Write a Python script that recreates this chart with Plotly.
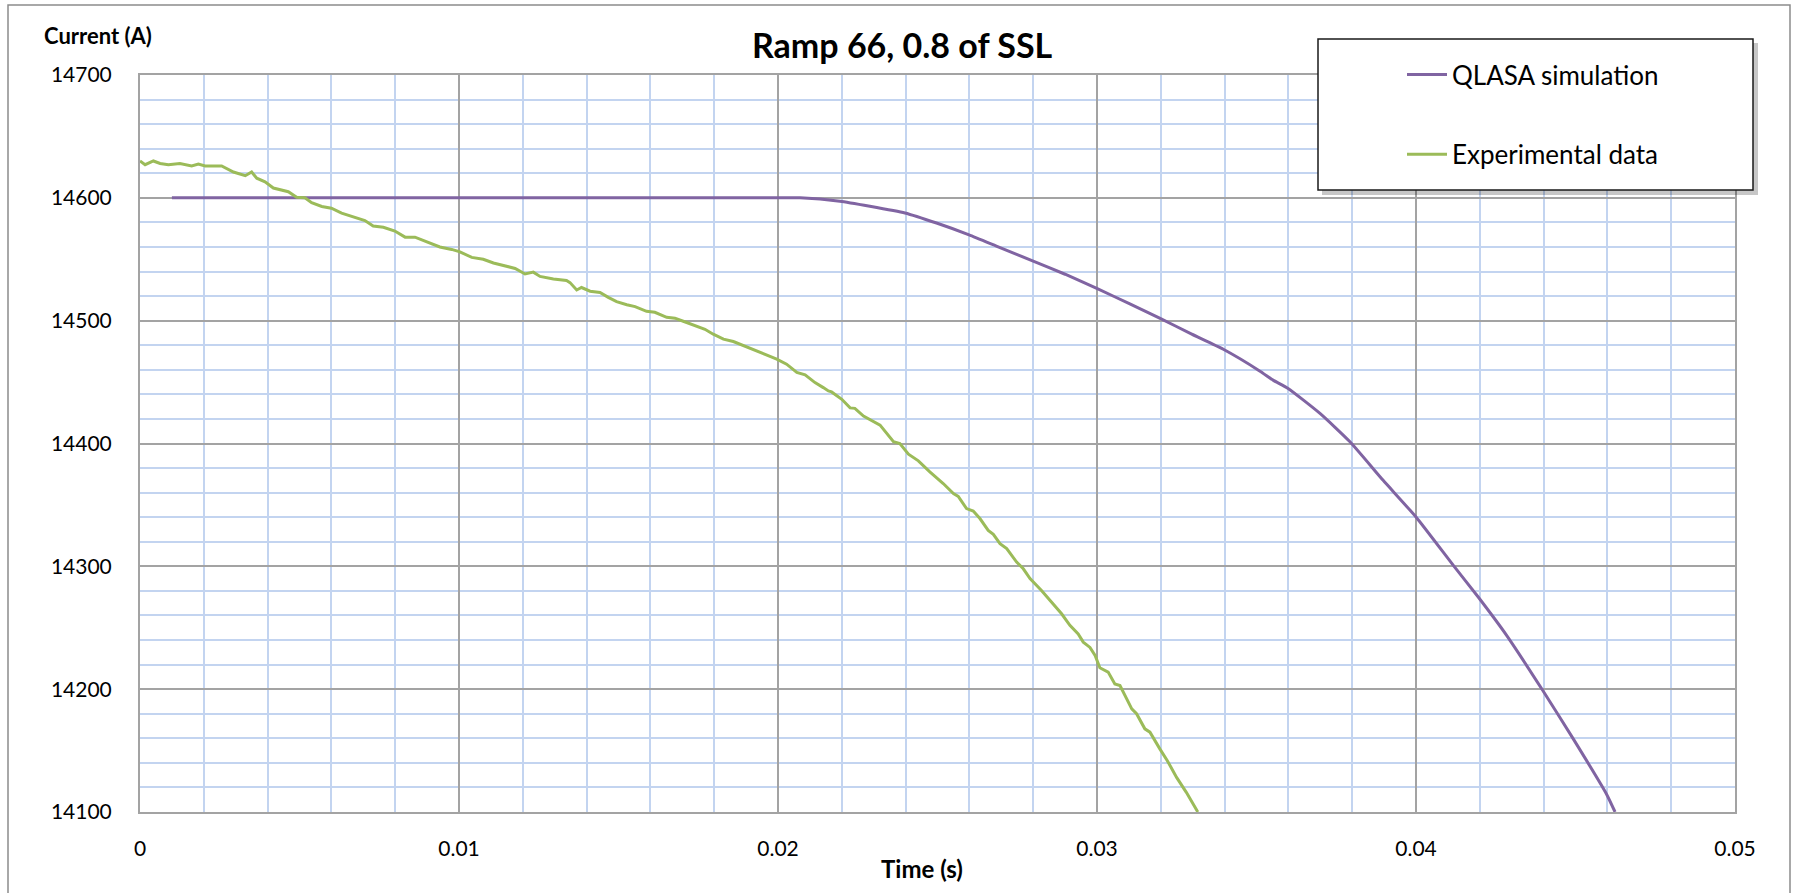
import plotly.graph_objects as go

# ---- data (time in s, current in A) ----
exp_t = [0.0, 0.00016, 0.00042, 0.00063, 0.00089, 0.00125, 0.00162, 0.00183, 0.00204, 0.00256,
         0.00293, 0.00330, 0.00350, 0.00366, 0.00392, 0.00418, 0.00465, 0.00491, 0.00517, 0.00538,
         0.00570, 0.00600, 0.00632, 0.00674, 0.00705, 0.00731, 0.00763, 0.00799, 0.00831, 0.00862,
         0.00904, 0.00940, 0.00977, 0.01003, 0.01040, 0.01076, 0.01108, 0.01140, 0.01176, 0.01207,
         0.01233, 0.01254, 0.01296, 0.01337, 0.01348, 0.01369, 0.01384, 0.01411, 0.01442, 0.01468,
         0.01494, 0.01526, 0.01552, 0.01588, 0.01614, 0.01651, 0.01677, 0.01703, 0.01735, 0.01771,
         0.01797, 0.01829, 0.01860, 0.01891, 0.01928, 0.01970, 0.01996, 0.02027, 0.02059, 0.02085,
         0.02116, 0.02142, 0.02158, 0.02168, 0.02200, 0.02226, 0.02241, 0.02268, 0.02299, 0.02320,
         0.02362, 0.02382, 0.02409, 0.02440, 0.02476, 0.02518, 0.02550, 0.02565, 0.02591, 0.02612,
         0.02633, 0.02659, 0.02675, 0.02696, 0.02717, 0.02748, 0.02769, 0.02790, 0.02826, 0.02858,
         0.02889, 0.02915, 0.02941, 0.02957, 0.02978, 0.02994, 0.03009, 0.03035, 0.03056, 0.03072,
         0.03088, 0.03109, 0.03124, 0.03150, 0.03166, 0.03187, 0.03197, 0.03220, 0.03250, 0.03280,
         0.03300, 0.03316]
exp_i = [14630, 14627, 14630, 14628, 14627, 14628, 14626, 14627.5, 14626, 14626,
         14621, 14618, 14621, 14616, 14613, 14608, 14605, 14600.5, 14600, 14596,
         14593, 14591.5, 14587.5, 14584, 14581.5, 14577, 14576, 14573, 14568, 14568,
         14564, 14560, 14558, 14556, 14551.5, 14550, 14547, 14545, 14542.5, 14538,
         14539.5, 14536, 14534, 14532.7, 14531, 14525, 14527, 14524, 14523, 14519,
         14515.5, 14513, 14511.4, 14507.6, 14506.8, 14502.7, 14502, 14499.5, 14496.7, 14493,
         14489, 14485, 14483, 14479.6, 14476, 14471.4, 14468.7, 14464.6, 14457.8, 14455.9,
         14449.6, 14445.5, 14442.8, 14442, 14436, 14429, 14428.6, 14422.3, 14417.7, 14415,
         14401.4, 14400, 14391.3, 14385.9, 14376.9, 14367.4, 14359.2, 14357, 14347, 14345,
         14338.9, 14329.3, 14326, 14318.5, 14314.4, 14303.5, 14298, 14290, 14280.4, 14271,
         14261.4, 14252, 14245, 14238.3, 14234, 14227.4, 14217.4, 14213.9, 14204.3, 14203,
         14194.8, 14184, 14180, 14167.7, 14165, 14155.4, 14151.4, 14142, 14128, 14116,
         14107, 14100]

sim_t = [0.0010, 0.0200, 0.02069, 0.02194, 0.02288, 0.02398, 0.02497, 0.02599, 0.02696, 0.0280,
         0.0290, 0.03001, 0.03103, 0.03198, 0.03297, 0.03396, 0.03511, 0.03552, 0.03599, 0.03699,
         0.03793, 0.03897, 0.0400, 0.04117, 0.04195, 0.04284, 0.04394, 0.04493, 0.04597, 0.04624]
sim_i = [14600, 14600, 14600, 14597.3, 14593.2, 14587.7, 14579.5, 14569.9, 14559.5, 14548.5,
         14537.8, 14526, 14513.7, 14501.9, 14489, 14476.7, 14458.9, 14451.6, 14444.8, 14424.5,
         14401.4, 14370, 14340.2, 14300.8, 14275, 14243.8, 14200.3, 14159.5, 14114.7, 14100]

title_text = "Ramp 66, 0.8 of SSL"
x_title = "Time (s)"
y_title = "Current (A)"
series_names = ["QLASA simulation", "Experimental data"]

W, H = 1799, 893
L, R, T, B = 140, 1735, 75, 812
FONT = "Lato"
PURPLE = "#8064A2"
GREEN = "#9BBB59"
MAJOR = "#A3A3A3"
MINOR = "#C3D4F0"

fig = go.Figure()
fig.add_trace(go.Scatter(x=sim_t, y=sim_i, mode="lines", name=series_names[0],
                         legendgroup="a",
                         line=dict(color=PURPLE, width=3, shape="spline", smoothing=0.5)))
fig.add_trace(go.Scatter(x=exp_t, y=exp_i, mode="lines", name=series_names[1],
                         legendgroup="b",
                         line=dict(color=GREEN, width=3)))


def px(x):
    """figure pixel x -> paper fraction"""
    return (x - L) / (R - L)


def py(y):
    """figure pixel y -> paper fraction"""
    return (B - y) / (B - T)


shapes = [
    # outer chart border
    dict(type="rect", xref="paper", yref="paper", x0=px(8), x1=px(1790), y0=py(905), y1=py(5),
         line=dict(color="#8C8C8C", width=1.5), fillcolor="rgba(0,0,0,0)", layer="below"),
    # legend shadow
    dict(type="rect", xref="paper", yref="paper", x0=px(1322), x1=px(1758), y0=py(195), y1=py(43),
         line=dict(width=0), fillcolor="rgba(0,0,0,0.22)", layer="above"),
    # legend box
    dict(type="rect", xref="paper", yref="paper", x0=px(1318), x1=px(1753), y0=py(190), y1=py(39),
         line=dict(color="#1a1a1a", width=1.5), fillcolor="white", layer="above"),
]

annotations = [
    dict(text="<b>" + title_text + "</b>", xref="paper", yref="paper", x=px(902), y=py(44),
         xanchor="center", yanchor="middle", showarrow=False,
         font=dict(family=FONT, size=34, color="#000")),
    dict(text="<b>" + y_title + "</b>", xref="paper", yref="paper", x=px(42), y=py(35),
         xanchor="left", yanchor="middle", showarrow=False,
         font=dict(family=FONT, size=22, color="#000")),
    dict(text="<b>" + x_title + "</b>", xref="paper", yref="paper", x=px(922), y=py(868),
         xanchor="center", yanchor="middle", showarrow=False,
         font=dict(family=FONT, size=24, color="#000")),
]

fig.update_layout(
    width=W, height=H,
    margin=dict(l=L, r=W - R, t=T, b=H - B, pad=0),
    paper_bgcolor="white", plot_bgcolor="white",
    font=dict(family=FONT, size=21, color="#000"),
    shapes=shapes, annotations=annotations,
    showlegend=True,
    legend=dict(x=px(1402), y=py(51), xanchor="left", yanchor="top",
                bgcolor="rgba(0,0,0,0)", borderwidth=0,
                font=dict(family=FONT, size=26, color="#000"),
                tracegroupgap=43, itemwidth=40),
)

fig.update_xaxes(range=[0, 0.05], dtick=0.01, tick0=0, showgrid=True, gridcolor=MAJOR, gridwidth=1.5,
                 minor=dict(dtick=0.002, showgrid=True, gridcolor=MINOR, gridwidth=1.5),
                 showline=True, linecolor=MAJOR, linewidth=2, mirror=True, zeroline=False,
                 ticks="outside", ticklen=17, tickcolor="rgba(0,0,0,0)",
                 tickfont=dict(family=FONT, size=21, color="#000"))
fig.update_yaxes(range=[14100, 14700], dtick=100, tick0=14100, tickformat="d",
                 showgrid=True, gridcolor=MAJOR, gridwidth=1.5,
                 minor=dict(dtick=20, showgrid=True, gridcolor=MINOR, gridwidth=1.5),
                 showline=True, linecolor=MAJOR, linewidth=2, mirror=True, zeroline=False,
                 ticks="outside", ticklen=22, tickcolor="rgba(0,0,0,0)",
                 tickfont=dict(family=FONT, size=21, color="#000"))

fig.write_html("out.html", config={"displayModeBar": False},
               post_script="document.body.style.margin='0';")
